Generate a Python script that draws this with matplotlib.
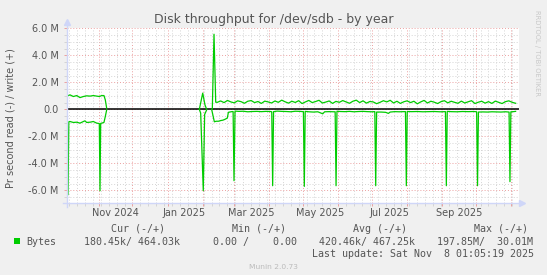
import numpy as np
import matplotlib
matplotlib.use("Agg")
import matplotlib.pyplot as plt
import matplotlib.dates as mdates
from matplotlib.patches import Rectangle
from matplotlib.ticker import MultipleLocator, FuncFormatter, NullFormatter
from datetime import datetime, timedelta

# year graph: 400 days back from the last update
end = datetime(2025, 11, 8, 1, 5, 19)
start = end - timedelta(days=400)
nan = float("nan")

# values in M bytes/s, days counted from the left edge of the graph
write_days_a = [0.3, 2.7, 5.6, 8.6, 11.5, 14.5, 17.4, 20.4, 23.3, 26.3, 28.6, 30.7, 32.7, 33.9, 35.1]
write_vals_a = [1.0, 1.07, 0.95, 1.02, 0.87, 0.95, 1.0, 0.98, 1.02, 0.98, 0.95, 1.02, 1.02, 0.7, 0.09]
write_days_b = [117.1, 120.1, 122.1, 123.6]
write_vals_b = [0.0, 1.2, 0.33, 0.0]
write_days_c = [128.6, 130.1, 131.6]
write_vals_c = [0.04, 5.56, 0.53]
write_days_d = np.arange(133, 398, 3)
write_vals_d = [0.52, 0.62, 0.5, 0.66, 0.55, 0.48, 0.63, 0.57, 0.45, 0.6,
                0.65, 0.5, 0.58, 0.44, 0.61, 0.55, 0.47, 0.62, 0.52, 0.68,
                0.56, 0.46, 0.6, 0.51, 0.64, 0.43, 0.55, 0.66, 0.5, 0.58,
                0.67, 0.47, 0.54, 0.62, 0.44, 0.59, 0.52, 0.65, 0.55, 0.45,
                0.6, 0.68, 0.5, 0.63, 0.46, 0.58, 0.55, 0.42, 0.52, 0.64,
                0.55, 0.67, 0.47, 0.6, 0.44, 0.56, 0.63, 0.5, 0.6, 0.41,
                0.55, 0.66, 0.47, 0.6, 0.53, 0.43, 0.57, 0.64, 0.48, 0.6,
                0.52, 0.45, 0.61, 0.47, 0.56, 0.64, 0.43, 0.53, 0.6, 0.46,
                0.57, 0.44, 0.61, 0.52, 0.43, 0.57, 0.63, 0.52, 0.45]

read_days_a = [0.3, 0.9, 1.6, 2.7, 5.6, 8.6, 11.5, 14.5, 15.9, 17.4, 20.4, 23.3, 26.3,
               28.6, 29.2, 29.8, 30.7, 32.7, 33.9, 35.1]
read_vals_a = [-0.9, -6.32, -0.92, -0.9, -0.97, -0.95, -1.02, -0.9, -0.85, -0.97, -0.95,
               -0.9, -1.02, -1.05, -6.02, -1.04, -1.02, -0.97, -0.53, -0.04]
read_days_b = [117.1, 118.3, 120.6, 121.8, 123.6]
read_vals_b = [0.0, -0.28, -6.02, -0.38, -0.04]
read_days_c = [128.0, 130.4, 132, 134, 136, 138, 140, 141.9, 142.8, 145.7, 147.0, 147.8, 148.7,
               152, 156, 160, 164, 168, 172, 176, 180, 181.2, 182.0, 182.8,
               186, 190, 194, 198, 202, 206, 209.2, 210.0, 210.8,
               214, 218, 222, 226.3, 228, 232, 236, 237.3, 238.1, 238.9,
               242, 246, 250, 254, 258, 262, 266, 270, 272.4, 273.2, 274,
               278, 282, 284.4, 286, 290, 294, 298, 299.5, 300.3, 301.1,
               305, 310, 315, 320, 325, 330, 334.9, 335.7, 336.5,
               340, 345, 350, 355, 360, 362.5, 363.3, 364.1,
               368, 372, 376, 380, 384, 388, 391.2, 392.0, 392.8, 395, 397]
read_vals_c = [0.0, -0.92, -0.88, -0.88, -0.83, -0.8, -0.73, -0.64, -0.22, -0.17, -0.16, -5.28, -0.13,
               -0.15, -0.14, -0.18, -0.16, -0.15, -0.17, -0.15, -0.16, -0.18, -5.65, -0.17,
               -0.13, -0.15, -0.16, -0.18, -0.14, -0.15, -0.17, -5.7, -0.15,
               -0.18, -0.2, -0.18, -0.33, -0.18, -0.17, -0.18, -0.18, -5.65, -0.14,
               -0.16, -0.17, -0.15, -0.18, -0.16, -0.15, -0.17, -0.18, -0.17, -5.65, -0.2,
               -0.2, -0.22, -0.3, -0.2, -0.17, -0.18, -0.17, -0.17, -5.65, -0.16,
               -0.17, -0.16, -0.18, -0.17, -0.16, -0.18, -0.17, -5.65, -0.15,
               -0.17, -0.18, -0.16, -0.17, -0.16, -0.18, -5.65, -0.2,
               -0.19, -0.2, -0.18, -0.19, -0.2, -0.18, -0.2, -5.35, -0.18, -0.17, -0.15]

label_months = ["2024-11", "2025-01", "2025-03", "2025-05", "2025-07", "2025-09"]
legend_head = ["Cur (-/+)", "Min (-/+)", "Avg (-/+)", "Max (-/+)"]
legend_vals = ["180.45k/ 464.03k", "0.00 /    0.00", "420.46k/ 467.25k", "197.85M/  30.01M"]

W, H = 547, 275
GREEN = "#00CC00"
AXIS = "#CFD6F8"
FONT = "#555555"

def px(x, y):
    return x / W, 1 - y / H

def join(*segs):
    out = []
    for s in segs:
        out.extend(list(s) + [nan])
    return np.array(out[:-1], dtype=float)

t0 = mdates.date2num(start)
wx = t0 + join(write_days_a, write_days_b, write_days_c + list(write_days_d))
wy = join(write_vals_a, write_vals_b, write_vals_c + write_vals_d)
rx = t0 + join(read_days_a, read_days_b, read_days_c)
ry = join(read_vals_a, read_vals_b, read_vals_c)

fig = plt.figure(figsize=(W / 100, H / 100), dpi=100, facecolor="#F0F0F0")
ax = fig.add_axes([67 / W, 1 - 203 / H, 452 / W, 175 / H])
ax.set_facecolor("white")

ax.axhline(0, color="black", lw=1.1, zorder=2)
ax.plot(wx, wy, color=GREEN, lw=0.9, zorder=3)
ax.plot(rx, ry, color=GREEN, lw=0.9, zorder=3)

ax.set_xlim(t0, mdates.date2num(end))
ax.set_ylim(-6.93, 6.02)

ax.xaxis.set_major_locator(mdates.MonthLocator())
ax.xaxis.set_minor_locator(mdates.WeekdayLocator(byweekday=mdates.SU))
ax.xaxis.set_major_formatter(NullFormatter())
ax.yaxis.set_major_locator(MultipleLocator(2))
ax.yaxis.set_minor_locator(MultipleLocator(0.5))
ax.yaxis.set_major_formatter(FuncFormatter(lambda v, _: "0.0" if abs(v) < 1e-9 else f"{v:.1f} M"))

ax.grid(which="minor", color="#D4D4D4", linestyle=(0, (1, 2)), lw=0.7)
ax.grid(which="major", color="#EBA0A0", linestyle=(0, (1, 2)), lw=0.7)
ax.set_axisbelow(True)

ax.tick_params(which="major", length=2, width=0.7, color="#EBA0A0", labelsize=7,
               labelcolor=FONT, pad=4)
ax.tick_params(which="minor", length=2, width=0.7, color="#D4D4D4")

for s in ax.spines.values():
    s.set_visible(False)
# rrdtool style axes with arrows
ax.plot([0, 0], [-0.02, 1.035], color=AXIS, lw=1, transform=ax.transAxes, clip_on=False, zorder=4)
ax.plot([-0.009, 1.0], [0, 0], color=AXIS, lw=1, transform=ax.transAxes, clip_on=False, zorder=4)
ax.plot(0, 1.035, marker="^", ms=4, color=AXIS, transform=ax.transAxes, clip_on=False)
ax.plot(1.006, 0, marker=">", ms=4, color=AXIS, transform=ax.transAxes, clip_on=False)

for m in label_months:
    d = datetime.strptime(m, "%Y-%m")
    ax.text(mdates.date2num(d + timedelta(days=15)), -0.057, d.strftime("%b %Y"),
            transform=ax.get_xaxis_transform(), ha="center", va="center",
            fontsize=7, color=FONT)

fig.text(*px(274, 19), "Disk throughput for /dev/sdb - by year", ha="center", va="center",
         fontsize=9, color=FONT)
fig.text(*px(11, 118), "Pr second read (-) / write (+)", rotation=90, ha="center", va="center",
         fontsize=7, color=FONT)
fig.text(*px(537, 53), "RRDTOOL / TOBI OETIKER", rotation=270, ha="center", va="center",
         fontsize=4.9, color="#C8C8C8")

mono = dict(family="DejaVu Sans Mono", fontsize=7.2, color=FONT, va="center")
for x, s in zip([111, 232, 353, 474], legend_head):
    fig.text(*px(x, 228.6), s, **mono)
fig.text(*px(26, 241.8), "Bytes", **mono)
for x, s in zip([84, 213, 319, 437], legend_vals):
    fig.text(*px(x, 241.8), s, **mono)
fig.text(*px(312, 254), "Last update: Sat Nov  8 01:05:19 2025", **mono)
fig.text(*px(273.5, 267), "Munin 2.0.73", ha="center", va="center", fontsize=5.4, color="#BBBBBB")

fig.patches.append(Rectangle(px(14, 244), 6 / W, 6 / H, transform=fig.transFigure,
                             facecolor=GREEN, edgecolor="none"))

fig.savefig("out.png", dpi=100, facecolor=fig.get_facecolor())
